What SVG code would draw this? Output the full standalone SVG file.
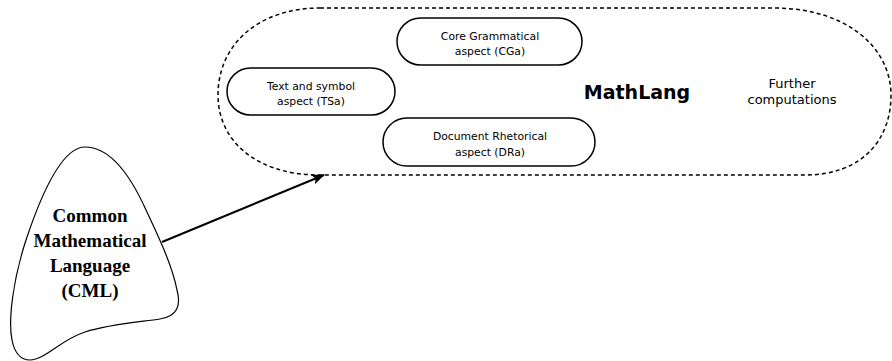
<svg xmlns="http://www.w3.org/2000/svg" width="892" height="361" viewBox="0 0 892 361">
<defs>
<style>
.bg{fill:#fff}
.outer{fill:none;stroke:#000;stroke-width:1.5;stroke-dasharray:4 3}
.pill{fill:#fff;stroke:#000;stroke-width:1.5}
.blob{fill:#fff;stroke:#000;stroke-width:1.2}
.t{font-family:"DejaVu Sans",sans-serif;font-size:10.8px;fill:#000;text-anchor:middle}
.big{font-family:"DejaVu Sans",sans-serif;font-size:19px;font-weight:bold;fill:#000;text-anchor:middle}
.fc{font-family:"DejaVu Sans",sans-serif;font-size:13px;fill:#000;text-anchor:middle}
.cml{font-family:"Liberation Serif","Times New Roman",serif;font-size:19px;font-weight:bold;fill:#000;text-anchor:middle}
.conn{fill:none;stroke:#000;stroke-width:2}
</style>
<marker id="arrow" markerWidth="14" markerHeight="10" refX="12" refY="5" orient="auto" markerUnits="userSpaceOnUse">
<path d="M0,0 L13,5 L0,10 L3,5 Z" fill="#000"/>
</marker>
</defs>
<rect class="bg" x="0" y="0" width="892" height="361"/>
<g id="mathlang">
<path class="outer" d="M320 8 L773 8 C850 8 891 50 891 95 C891 140 862 175 805 175 L320 175 C255 175 218 140 218 95 C218 45 258 8 320 8 Z"/>
<text class="big" x="637" y="99">MathLang</text>
<text class="fc" x="792" y="88">Further</text>
<text class="fc" x="792" y="104">computations</text>
</g>
<g id="tsa">
<rect class="pill" x="227" y="68" width="168" height="47" rx="23.5"/>
<text class="t" x="311" y="90">Text and symbol</text>
<text class="t" x="311" y="105">aspect (TSa)</text>
</g>
<g id="cga">
<rect class="pill" x="397" y="18" width="185" height="47" rx="23.5"/>
<text class="t" x="490" y="40">Core Grammatical</text>
<text class="t" x="490" y="55">aspect (CGa)</text>
</g>
<g id="dra">
<rect class="pill" x="383" y="118" width="212" height="48" rx="24"/>
<text class="t" x="490" y="140">Document Rhetorical</text>
<text class="t" x="490" y="156">aspect (DRa)</text>
</g>
<g id="cml">
<path class="blob" d="M85 147 C62 147 42 192 26 240 C13 280 8 320 12 340 C15 355 22 360 30 360 C45 360 60 340 85 332 C110 324 140 322 160 319 C178 316 181 305 177 290 C172 265 160 240 146 210 C128 170 108 147 85 147 Z"/>
<text class="cml" x="90" y="222">Common</text>
<text class="cml" x="90" y="247">Mathematical</text>
<text class="cml" x="90" y="272">Language</text>
<text class="cml" x="90" y="297">(CML)</text>
</g>
<g id="connectors">
<path class="conn" d="M162 242 L324 175" marker-end="url(#arrow)"/>
</g>
</svg>
